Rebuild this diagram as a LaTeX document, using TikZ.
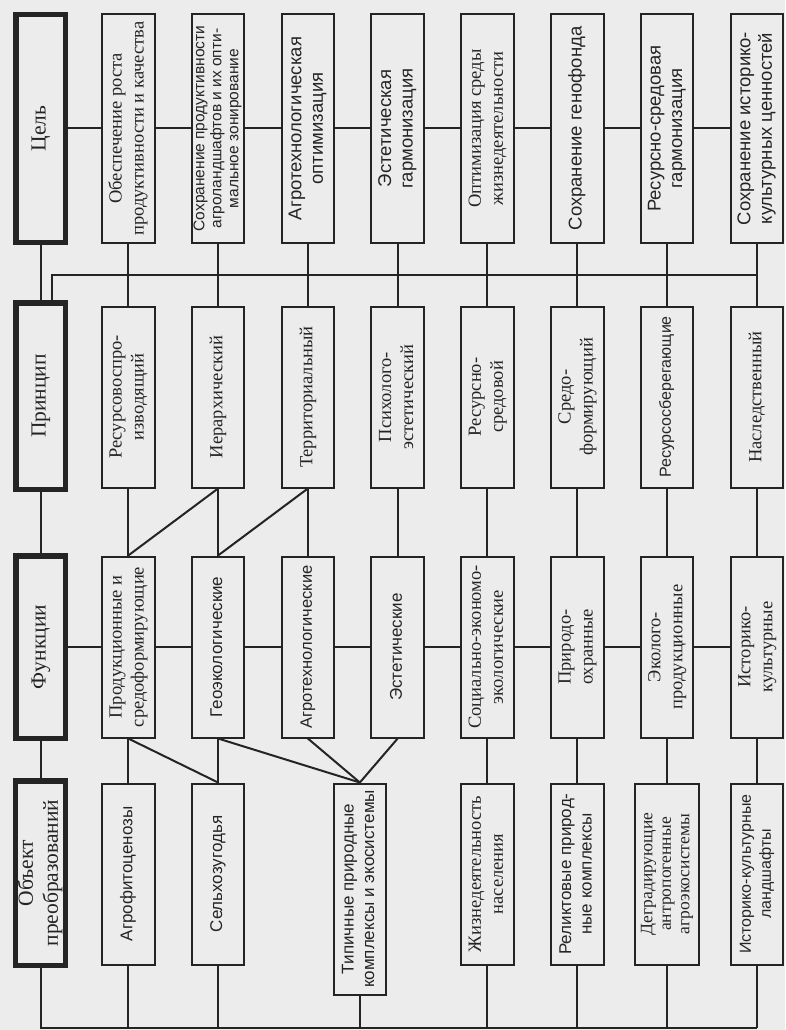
\documentclass[tikz,border=0pt]{standalone}
\usepackage{fontspec}
\setmainfont{Liberation Serif}
\setsansfont{Liberation Sans}
\usetikzlibrary{positioning}
\definecolor{SchemeInk}{RGB}{36,36,36}
\definecolor{SchemePaper}{RGB}{236,236,236}
\newcommand{\uptext}[1]{\rotatebox{90}{\begin{tabular}{@{}c@{}}#1\end{tabular}}}

\begin{document}
\begin{tikzpicture}[x=1pt, y=-1pt,
    box/.style={draw=SchemeInk, line width=2pt, inner sep=0pt, minimum width=52.5pt,
                minimum height=181pt, text=SchemeInk, font=\fontsize{18.5}{22}\selectfont},
    tallbox/.style={box, minimum height=228pt},
    headbox/.style={box, line width=5.5pt, minimum width=49.5pt, font=\fontsize{21.5}{25}\selectfont},
    sfbox/.style={font=\sffamily\fontsize{17}{20.5}\selectfont},
    sfbig/.style={font=\sffamily\fontsize{18.5}{21.5}\selectfont},
    link/.style={draw=SchemeInk, line width=2pt},
    node distance=35.3pt
]
    \fill[SchemePaper] (0,0) rectangle (785,1030);
    \useasboundingbox (0,0) rectangle (785,1030);

    % Цель
    \node[headbox, minimum height=227.5pt] (cel) at (40.5,128.5) {\uptext{Цель}};
    \node[tallbox, right=33pt of cel] (obesp) {\uptext{Обеспечение роста\\продуктивности и качества}};
    \node[tallbox, font=\sffamily\fontsize{15.5}{17}\selectfont, right=of obesp] (sohrprod) {\uptext{Сохранение продуктивности\\агроландшафтов и их опти-\\мальное зонирование}};
    \node[tallbox, sfbig, right=of sohrprod] (agroopt) {\uptext{Агротехнологическая\\оптимизация}};
    \node[tallbox, sfbig, right=of agroopt] (esthar) {\uptext{Эстетическая\\гармонизация}};
    \node[tallbox, right=of esthar] (optsred) {\uptext{Оптимизация среды\\жизнедеятельности}};
    \node[tallbox, sfbig, right=of optsred] (genof) {\uptext{Сохранение генофонда}};
    \node[tallbox, sfbig, right=of genof] (ressred) {\uptext{Ресурсно-средовая\\гармонизация}};
    \node[tallbox, sfbig, right=of ressred] (sohrist) {\uptext{Сохранение историко-\\культурных ценностей}};

    % Принцип
    \node[headbox, minimum height=186.5pt, below=55pt of cel] (princ) {\uptext{Принцип}};
    \node[box, below=62pt of obesp] (resvos) {\uptext{Ресурсовоспро-\\изводящий}};
    \node[box, below=62pt of sohrprod] (ier) {\uptext{Иерархический}};
    \node[box, below=62pt of agroopt] (terr) {\uptext{Территориальный}};
    \node[box, below=62pt of esthar] (psih) {\uptext{Психолого-\\эстетический}};
    \node[box, below=62pt of optsred] (ressrp) {\uptext{Ресурсно-\\средовой}};
    \node[box, below=62pt of genof] (sredo) {\uptext{Средо-\\формирующий}};
    \node[box, font=\sffamily\fontsize{16}{19}\selectfont, below=62pt of ressred] (resber) {\uptext{Ресурсосберегающие}};
    \node[box, below=62pt of sohrist] (nasl) {\uptext{Наследственный}};

    % Функции
    \node[headbox, minimum height=182.5pt, below=61pt of princ] (func) {\uptext{Функции}};
    \node[box, below=67pt of resvos] (prod) {\uptext{Продукционные и\\средоформирующие}};
    \node[box, sfbox, below=67pt of ier] (geo) {\uptext{Геоэкологические}};
    \node[box, font=\sffamily\fontsize{16.5}{20}\selectfont, below=67pt of terr] (agrot) {\uptext{Агротехнологические}};
    \node[box, sfbox, below=67pt of psih] (estf) {\uptext{Эстетические}};
    \node[box, below=67pt of ressrp] (soc) {\uptext{Социально-экономо-\\экологические}};
    \node[box, below=67pt of sredo] (prir) {\uptext{Природо-\\охранные}};
    \node[box, below=67pt of resber] (ekol) {\uptext{Эколого-\\продукционные}};
    \node[box, below=67pt of nasl] (istf) {\uptext{Историко-\\культурные}};

    % Объект преобразований
    \node[headbox, minimum height=184.5pt, below=37pt of func] (obj) {\uptext{Объект\\преобразований}};
    \node[box, sfbox, below=44pt of prod] (agrof) {\uptext{Агрофитоценозы}};
    \node[box, sfbox, below=44pt of geo] (selh) {\uptext{Сельхозугодья}};
    \node[box, sfbox, minimum height=211pt, anchor=north, xshift=52pt] (tip) at (agrot.south |- selh.north) {\uptext{Типичные природные\\комплексы и экосистемы}};
    \node[box, below=44pt of soc] (zhizn) {\uptext{Жизнедеятельность\\населения}};
    \node[box, sfbox, below=44pt of prir] (relik) {\uptext{Реликтовые природ-\\ные комплексы}};
    \node[box, minimum width=64pt, font=\fontsize{17.5}{18.5}\selectfont, below=44pt of ekol] (degr) {\uptext{Деградирующие\\антропогенные\\агроэкосистемы}};
    \node[box, font=\sffamily\fontsize{16}{20}\selectfont, below=44pt of istf] (istl) {\uptext{Историко-культурные\\ландшафты}};

    \coordinate (busT) at (52,275);
    \coordinate (busB) at (0,1027.5);

    \draw[link] (cel) -- (obesp) -- (sohrprod) -- (agroopt) -- (esthar) -- (optsred) -- (genof) -- (ressred) -- (sohrist);
    \draw[link] (cel) -- (princ);
    \draw[link] (obesp) -- (resvos);
    \draw[link] (sohrprod) -- (ier);
    \draw[link] (agroopt) -- (terr);
    \draw[link] (esthar) -- (psih);
    \draw[link] (optsred) -- (ressrp);
    \draw[link] (genof) -- (sredo);
    \draw[link] (ressred) -- (resber);
    \draw[link] (sohrist) -- (nasl);
    \draw[link] (princ.north -| busT) -- (busT) -- (busT -| sohrist);

    \draw[link] (princ) -- (func);
    \draw[link] (resvos) -- (prod);
    \draw[link] (ier) -- (geo);
    \draw[link] (terr) -- (agrot);
    \draw[link] (psih) -- (estf);
    \draw[link] (ressrp) -- (soc);
    \draw[link] (sredo) -- (prir);
    \draw[link] (resber) -- (ekol);
    \draw[link] (nasl) -- (istf);
    \draw[link] (ier.south) -- (prod.north);
    \draw[link] (terr.south) -- (geo.north);

    \draw[link] (func) -- (prod) -- (geo) -- (agrot) -- (estf) -- (soc) -- (prir) -- (ekol) -- (istf);
    \draw[link] (func) -- (obj);
    \draw[link] (prod) -- (agrof);
    \draw[link] (geo) -- (selh);
    \draw[link] (soc) -- (zhizn);
    \draw[link] (prir) -- (relik);
    \draw[link] (ekol) -- (degr);
    \draw[link] (istf) -- (istl);
    \draw[link] (prod.south) -- (selh.north);
    \draw[link] (geo.south) -- (tip.north);
    \draw[link] (agrot.south) -- (tip.north);
    \draw[link] (estf.south) -- (tip.north);

    \draw[link] (obj.south) -- (obj.south |- busB) -- (busB -| istl);
    \draw[link] (agrof.south) -- (agrof.south |- busB);
    \draw[link] (selh.south) -- (selh.south |- busB);
    \draw[link] (tip.south) -- (tip.south |- busB);
    \draw[link] (zhizn.south) -- (zhizn.south |- busB);
    \draw[link] (relik.south) -- (relik.south |- busB);
    \draw[link] (degr.south) -- (degr.south |- busB);
    \draw[link] (istl.south) -- (istl.south |- busB);
\end{tikzpicture}
\end{document}
